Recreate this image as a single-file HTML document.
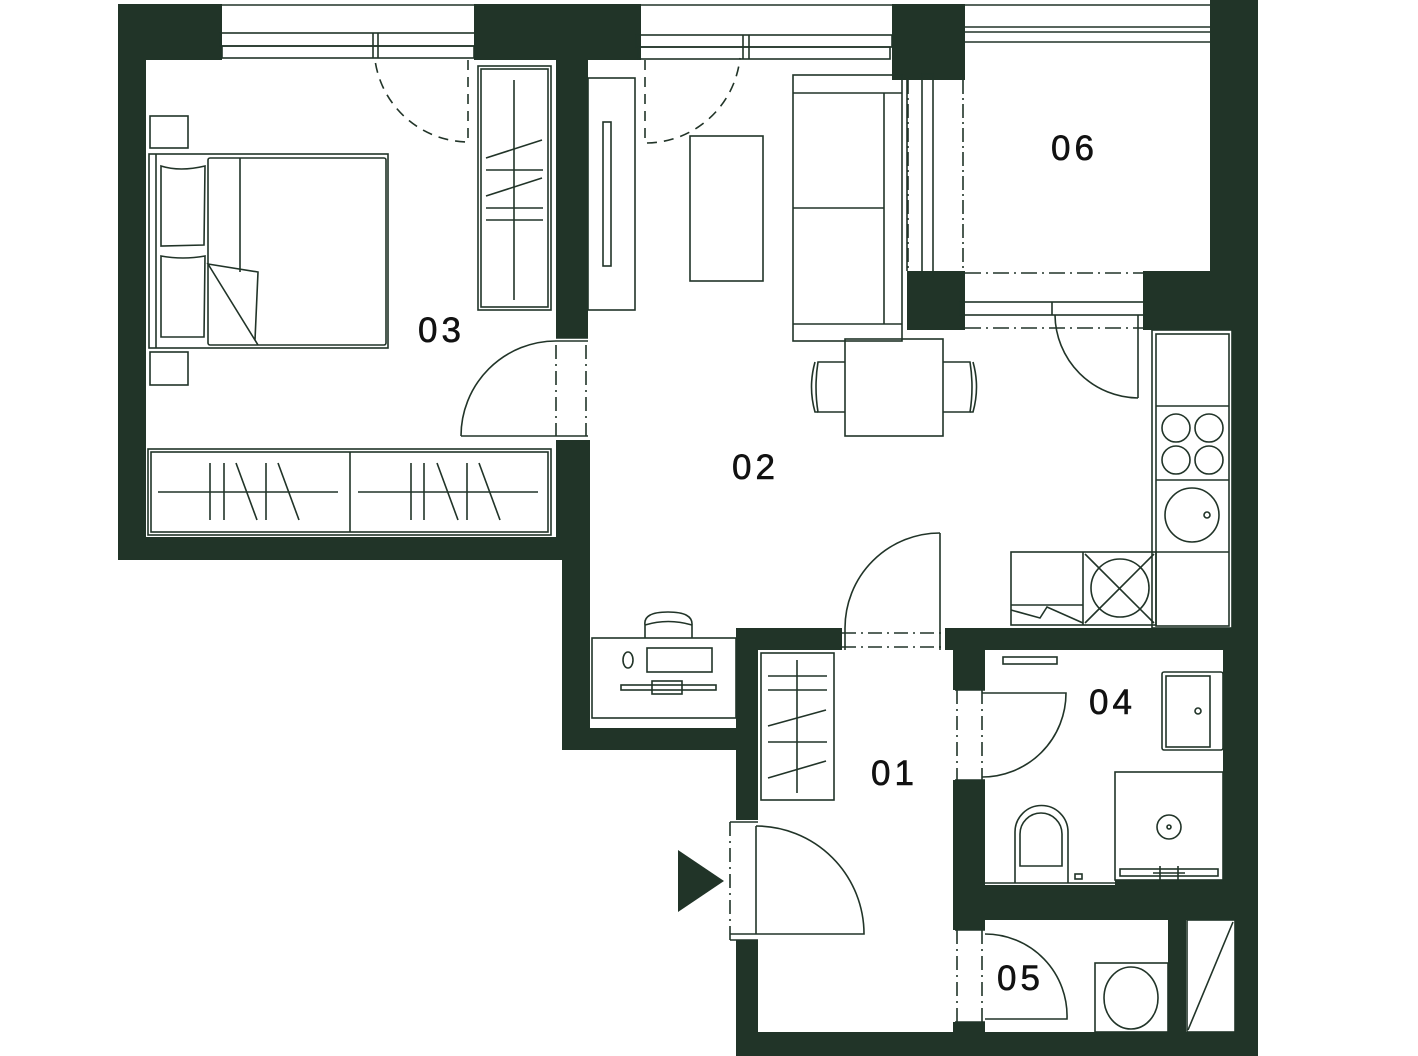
<!DOCTYPE html>
<html><head><meta charset="utf-8"><style>
html,body{margin:0;padding:0;background:#fff;}
svg{display:block}
text{font-family:"Liberation Sans",sans-serif;font-size:35px;fill:#111;letter-spacing:4px;stroke:#111;stroke-width:0.6}
</style></head><body>
<svg width="1418" height="1056" viewBox="0 0 1418 1056" xmlns="http://www.w3.org/2000/svg">
<g fill="#213428" stroke="none">
<rect x="118" y="4" width="104" height="56"/>
<rect x="118" y="4" width="28" height="556"/>
<rect x="118" y="537" width="470" height="23"/>
<rect x="474" y="4" width="167" height="56"/>
<rect x="556" y="4" width="32" height="334"/>
<rect x="556" y="440" width="32" height="120"/>
<rect x="562" y="440" width="28" height="310"/>
<rect x="562" y="728" width="196" height="22"/>
<rect x="892" y="4" width="73" height="76"/>
<rect x="907" y="271" width="58" height="59"/>
<rect x="1210" y="0" width="48" height="330"/>
<rect x="1143" y="271" width="115" height="59"/>
<rect x="1232" y="330" width="26" height="320"/>
<rect x="736" y="628" width="22" height="192"/>
<rect x="736" y="940" width="22" height="116"/>
<rect x="736" y="628" width="106" height="22"/>
<rect x="945" y="628" width="313" height="22"/>
<rect x="953" y="650" width="32" height="40"/>
<rect x="953" y="780" width="32" height="150"/>
<rect x="953" y="1022" width="32" height="34"/>
<rect x="1223" y="650" width="35" height="270"/>
<rect x="1235" y="900" width="23" height="156"/>
<rect x="953" y="885" width="305" height="35"/>
<rect x="1115" y="880" width="143" height="40"/>
<rect x="1168" y="920" width="18" height="120"/>
<rect x="736" y="1032" width="522" height="24"/>
<polygon points="678,850 724,881 678,912"/>
</g>
<g fill="none" stroke="#213428" stroke-width="1.6">
<line x1="222" y1="5" x2="474" y2="5"/>
<rect x="220" y="33" width="255" height="13"/>
<rect x="222" y="46" width="252" height="12"/>
<line x1="373" y1="33" x2="373" y2="58"/><line x1="378" y1="33" x2="378" y2="58"/>
<line x1="641" y1="5" x2="892" y2="5"/>
<rect x="636" y="35" width="256" height="12"/>
<rect x="638" y="47" width="252" height="12"/>
<line x1="743" y1="35" x2="743" y2="59"/><line x1="749" y1="35" x2="749" y2="59"/>
<line x1="965" y1="5" x2="1210" y2="5"/>
<line x1="965" y1="27" x2="1210" y2="27"/>
<line x1="965" y1="32" x2="1210" y2="32"/>
<line x1="965" y1="42" x2="1210" y2="42"/>
<line x1="907" y1="80" x2="907" y2="271"/>
<rect x="922" y="74" width="11" height="203"/>
<line x1="963" y1="80" x2="963" y2="271" stroke-dasharray="14,4,2,4"/>
<line x1="908" y1="80" x2="908" y2="271" stroke-dasharray="14,4,2,4"/>
<line x1="965" y1="273" x2="1143" y2="273" stroke-dasharray="16,5,2,5"/>
<rect x="960" y="302" width="188" height="13"/>
<line x1="1052" y1="302" x2="1052" y2="315"/>
<line x1="965" y1="328" x2="1143" y2="328" stroke-dasharray="16,5,2,5"/>
<line x1="1138" y1="315" x2="1138" y2="398"/>
<path d="M1055,315 A84,84 0 0 0 1138,398"/>
<path d="M468,60 V142 A95,95 0 0 1 375,60" stroke-dasharray="10,7"/>
<path d="M645,60 V143 A95,95 0 0 0 740,58" stroke-dasharray="10,7"/>
<rect x="150" y="116" width="38" height="32"/>
<rect x="150" y="352" width="38" height="33"/>
<rect x="149" y="154" width="239" height="194"/>
<line x1="156" y1="154" x2="156" y2="348"/>
<rect x="208" y="158" width="178" height="187" rx="2"/>
<line x1="240" y1="158" x2="240" y2="272"/>
<path d="M208,264 L258,272 L255,340 L258,345 Z"/>
<path d="M161,166 Q180,172 205,166 L204,245 L161,246 Z"/>
<path d="M161,256 Q183,260 205,256 L204,337 L161,337 Z"/>
<rect x="478" y="66" width="73" height="244"/>
<rect x="481" y="69" width="67" height="238"/>
<line x1="514" y1="80" x2="514" y2="300"/>
<line x1="486" y1="158" x2="542" y2="140"/>
<line x1="486" y1="170" x2="543" y2="170"/>
<line x1="486" y1="196" x2="542" y2="178"/>
<line x1="486" y1="208" x2="543" y2="208"/>
<line x1="486" y1="220" x2="543" y2="220"/>
<rect x="148" y="449" width="403" height="86"/>
<rect x="151" y="452" width="397" height="80"/>
<line x1="350" y1="452" x2="350" y2="532"/>
<line x1="158" y1="492" x2="338" y2="492"/>
<line x1="358" y1="492" x2="538" y2="492"/>
<line x1="210" y1="463" x2="210" y2="520"/><line x1="224" y1="463" x2="224" y2="520"/>
<line x1="236" y1="463" x2="257" y2="520"/><line x1="266" y1="463" x2="266" y2="520"/><line x1="278" y1="463" x2="299" y2="520"/>
<line x1="411" y1="463" x2="411" y2="520"/><line x1="424" y1="463" x2="424" y2="520"/>
<line x1="437" y1="463" x2="458" y2="520"/><line x1="467" y1="463" x2="467" y2="520"/><line x1="479" y1="463" x2="500" y2="520"/>
<line x1="461" y1="436" x2="588" y2="436"/>
<path d="M461,436 A95,95 0 0 1 556,341"/>
<line x1="556" y1="338" x2="588" y2="338"/>
<line x1="556" y1="341" x2="588" y2="341"/>
<line x1="556" y1="345" x2="556" y2="436" stroke-dasharray="14,5,2,5"/>
<line x1="586" y1="345" x2="586" y2="436" stroke-dasharray="14,5,2,5"/>
<rect x="588" y="78" width="47" height="232"/>
<rect x="603" y="122" width="8" height="144"/>
<rect x="690" y="136" width="73" height="145"/>
<rect x="793" y="75" width="109" height="266"/>
<line x1="884" y1="93" x2="884" y2="324"/>
<line x1="793" y1="93" x2="902" y2="93"/>
<line x1="793" y1="208" x2="884" y2="208"/>
<line x1="793" y1="324" x2="902" y2="324"/>
<rect x="845" y="339" width="98" height="97"/>
<path d="M845,362 L818,362 Q814,387 818,412 L845,412"/>
<path d="M815,362 Q808,387 815,412 L818,412"/>
<path d="M943,362 L970,362 Q974,387 970,412 L943,412"/>
<path d="M973,362 Q980,387 973,412 L970,412"/>
<rect x="1152" y="330" width="80" height="298"/>
<rect x="1156" y="334" width="73" height="292"/>
<line x1="1156" y1="406" x2="1229" y2="406"/>
<line x1="1156" y1="480" x2="1229" y2="480"/>
<line x1="1156" y1="552" x2="1229" y2="552"/>
<circle cx="1176" cy="428" r="14"/><circle cx="1209" cy="428" r="14"/>
<circle cx="1176" cy="460" r="14"/><circle cx="1209" cy="460" r="14"/>
<circle cx="1192" cy="515" r="27"/><circle cx="1207" cy="515" r="3"/>
<rect x="1011" y="552" width="145" height="73"/>
<line x1="1083" y1="552" x2="1083" y2="625"/>
<circle cx="1120" cy="588" r="29"/>
<line x1="1085" y1="554" x2="1154" y2="623"/><line x1="1154" y1="554" x2="1085" y2="623"/>
<line x1="1011" y1="605" x2="1083" y2="605"/>
<path d="M1011,610 L1040,618 L1047,607 L1083,623"/>
<line x1="940" y1="533" x2="940" y2="650"/>
<path d="M845,650 V628 A95,95 0 0 1 940,533"/>
<line x1="842" y1="633" x2="945" y2="633" stroke-dasharray="14,5,2,5"/>
<line x1="842" y1="647" x2="945" y2="647" stroke-dasharray="14,5,2,5"/>
<rect x="592" y="638" width="144" height="80"/>
<path d="M645,638 L645,625 Q643,612 668,612 Q693,612 692,625 L692,638"/>
<path d="M645,625 Q668,618 692,625"/>
<rect x="647" y="648" width="65" height="24"/>
<ellipse cx="628" cy="660" rx="5" ry="8"/>
<rect x="621" y="685" width="95" height="5"/>
<rect x="652" y="681" width="30" height="13"/>
<rect x="761" y="653" width="73" height="147"/>
<line x1="797" y1="660" x2="797" y2="793"/>
<line x1="768" y1="676" x2="827" y2="676"/>
<line x1="768" y1="690" x2="827" y2="690"/>
<line x1="768" y1="726" x2="826" y2="710"/>
<line x1="768" y1="742" x2="827" y2="742"/>
<line x1="768" y1="778" x2="826" y2="761"/>
<line x1="756" y1="826" x2="756" y2="934"/>
<path d="M756,826 A108,108 0 0 1 864,934 L730,934"/>
<line x1="730" y1="822" x2="758" y2="822"/>
<line x1="730" y1="940" x2="758" y2="940"/>
<line x1="730" y1="822" x2="730" y2="940" stroke-dasharray="14,5,2,5"/>
<path d="M982,693 L1066,693 A84,84 0 0 1 982,777"/>
<line x1="955" y1="690" x2="985" y2="690"/>
<line x1="955" y1="780" x2="985" y2="780"/>
<line x1="957" y1="690" x2="957" y2="780" stroke-dasharray="14,5,2,5"/>
<line x1="982" y1="690" x2="982" y2="780" stroke-dasharray="14,5,2,5"/>
<rect x="1003" y="657" width="54" height="7"/>
<rect x="1162" y="672" width="61" height="78" rx="2"/>
<rect x="1166" y="676" width="44" height="71"/>
<circle cx="1198" cy="711" r="3"/>
<rect x="1115" y="772" width="108" height="108"/>
<circle cx="1169" cy="827" r="12"/><circle cx="1169" cy="827" r="2"/>
<rect x="1120" y="869" width="98" height="7"/>
<line x1="1160" y1="866" x2="1160" y2="880"/><line x1="1178" y1="866" x2="1178" y2="880"/>
<line x1="1153" y1="873" x2="1185" y2="873"/>
<path d="M1015,883 L1015,832 A26,26 0 0 1 1068,832 L1068,883"/>
<path d="M1020,866 L1020,834 A21,21 0 0 1 1062,834 L1062,866 Z"/>
<rect x="1075" y="874" width="7" height="5"/>
<line x1="985" y1="883" x2="1115" y2="883"/>
<path d="M985,934 A82,82 0 0 1 1067,1019 L985,1019"/>
<line x1="955" y1="930" x2="985" y2="930"/>
<line x1="955" y1="1022" x2="985" y2="1022"/>
<line x1="957" y1="930" x2="957" y2="1022" stroke-dasharray="14,5,2,5"/>
<line x1="982" y1="930" x2="982" y2="1022" stroke-dasharray="14,5,2,5"/>
<rect x="1095" y="963" width="73" height="69"/>
<ellipse cx="1131" cy="998" rx="27" ry="31"/>
<rect x="1187" y="920" width="48" height="112"/>
<line x1="1233" y1="922" x2="1188" y2="1030"/>
</g>
<text x="418" y="342">03</text>
<text x="732" y="479">02</text>
<text x="1051" y="160">06</text>
<text x="1089" y="714">04</text>
<text x="871" y="785">01</text>
<text x="997" y="990">05</text>
</svg>
</body></html>
